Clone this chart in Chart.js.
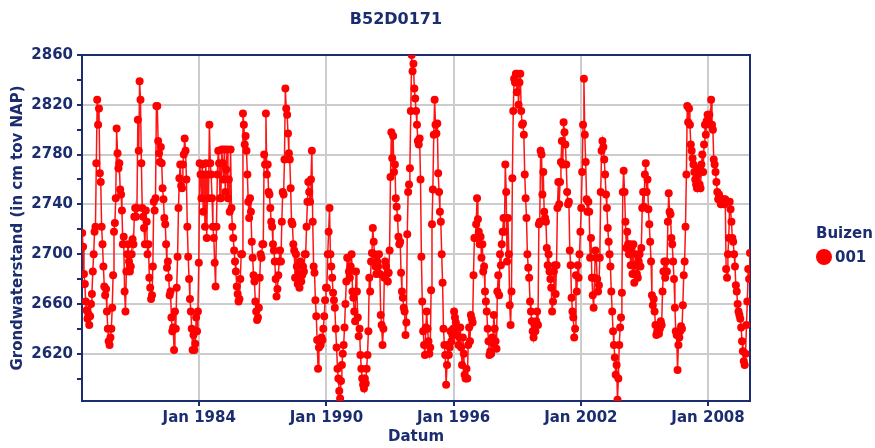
<!DOCTYPE html>
<html>
<head>
<meta charset="utf-8">
<title>B52D0171</title>
<script src="https://cdn.jsdelivr.net/npm/chart.js@4.4.1/dist/chart.umd.min.js"></script>
<style>
  html, body { margin: 0; padding: 0; background: #ffffff; }
  #wrap { width: 875px; height: 448px; }
</style>
</head>
<body>
<div id="wrap"><canvas id="levelChart" width="875" height="448"></canvas></div>
<script>
// Grondwaterstand in cm tov NAP, two readings per month (1978 starts end of June)
var lv1978 = [2717, 2706, 2684, 2676, 2662, 2655, 2648, 2652, 2643, 2650, 2660, 2668, 2686];
var lv1979 = [2700, 2718, 2722, 2773, 2824, 2804, 2817, 2765, 2758, 2722, 2708, 2690, 2674, 2667, 2672, 2654, 2640, 2630, 2627, 2633, 2640, 2657, 2683, 2718];
var lv1980 = [2725, 2745, 2801, 2781, 2769, 2773, 2752, 2748, 2735, 2708, 2714, 2670, 2654, 2686, 2700, 2708, 2694, 2686, 2690, 2700, 2712, 2708, 2730, 2737];
var lv1981 = [2730, 2737, 2808, 2783, 2839, 2824, 2773, 2737, 2730, 2721, 2708, 2735, 2726, 2700, 2708, 2681, 2673, 2664, 2667, 2690, 2742, 2735, 2745, 2819];
var lv1982 = [2819, 2791, 2781, 2774, 2786, 2773, 2753, 2744, 2729, 2724, 2708, 2689, 2694, 2681, 2667, 2670, 2649, 2638, 2641, 2623, 2654, 2640, 2673, 2698];
var lv1983 = [2737, 2761, 2772, 2755, 2753, 2772, 2780, 2793, 2783, 2760, 2722, 2698, 2680, 2664, 2654, 2640, 2623, 2635, 2623, 2628, 2649, 2638, 2654, 2693];
var lv1984 = [2773, 2764, 2745, 2772, 2734, 2764, 2722, 2773, 2713, 2764, 2745, 2804, 2773, 2764, 2745, 2722, 2713, 2693, 2674, 2722, 2764, 2783, 2773, 2745];
var lv1985 = [2745, 2784, 2773, 2760, 2784, 2750, 2768, 2784, 2745, 2760, 2734, 2784, 2737, 2722, 2713, 2703, 2694, 2686, 2674, 2668, 2662, 2664, 2680, 2700];
var lv1986 = [2700, 2813, 2804, 2788, 2795, 2783, 2764, 2742, 2729, 2745, 2734, 2710, 2697, 2683, 2678, 2662, 2654, 2647, 2649, 2657, 2681, 2700, 2697, 2708];
var lv1987 = [2708, 2780, 2772, 2813, 2764, 2772, 2750, 2748, 2737, 2726, 2722, 2708, 2703, 2694, 2680, 2666, 2672, 2683, 2694, 2703, 2694, 2726, 2750, 2748];
var lv1988 = [2776, 2833, 2817, 2812, 2797, 2781, 2776, 2753, 2726, 2724, 2708, 2703, 2681, 2700, 2690, 2676, 2684, 2673, 2694, 2678, 2683, 2690, 2686, 2700];
var lv1989 = [2700, 2722, 2742, 2758, 2750, 2742, 2760, 2783, 2726, 2690, 2685, 2663, 2650, 2631, 2608, 2625, 2631, 2627, 2633, 2631, 2640, 2650, 2663, 2673];
var lv1990 = [2673, 2700, 2718, 2737, 2700, 2690, 2681, 2669, 2663, 2657, 2640, 2625, 2608, 2600, 2590, 2584, 2598, 2611, 2620, 2627, 2641, 2660, 2678, 2697];
var lv1991 = [2697, 2686, 2681, 2690, 2700, 2670, 2665, 2654, 2646, 2686, 2670, 2649, 2634, 2640, 2619, 2608, 2600, 2595, 2592, 2600, 2596, 2608, 2619, 2638];
var lv1992 = [2681, 2670, 2694, 2701, 2721, 2710, 2700, 2690, 2684, 2694, 2690, 2700, 2684, 2651, 2643, 2627, 2640, 2681, 2694, 2690, 2684, 2678, 2685, 2703];
var lv1993 = [2762, 2798, 2777, 2795, 2766, 2772, 2745, 2738, 2729, 2714, 2708, 2710, 2685, 2670, 2665, 2657, 2654, 2635, 2645, 2716, 2750, 2756, 2769, 2815];
var lv1994 = [2860, 2847, 2853, 2833, 2825, 2815, 2804, 2791, 2788, 2793, 2760, 2698, 2662, 2638, 2627, 2619, 2641, 2654, 2640, 2630, 2620, 2625, 2671, 2724];
var lv1995 = [2752, 2796, 2824, 2804, 2797, 2805, 2765, 2750, 2734, 2726, 2700, 2677, 2640, 2627, 2619, 2595, 2611, 2627, 2619, 2625, 2638, 2630, 2635, 2640];
var lv1996 = [2654, 2649, 2645, 2635, 2641, 2627, 2633, 2641, 2625, 2611, 2633, 2620, 2603, 2600, 2608, 2600, 2627, 2641, 2630, 2651, 2648, 2645, 2683, 2713];
var lv1997 = [2713, 2724, 2745, 2728, 2718, 2708, 2714, 2697, 2708, 2686, 2690, 2670, 2662, 2654, 2640, 2630, 2619, 2622, 2620, 2633, 2628, 2651, 2640, 2630];
var lv1998 = [2624, 2670, 2683, 2667, 2700, 2691, 2708, 2718, 2729, 2718, 2772, 2750, 2694, 2729, 2700, 2659, 2643, 2670, 2761, 2815, 2841, 2838, 2845, 2830];
var lv1999 = [2845, 2820, 2838, 2845, 2815, 2804, 2805, 2796, 2764, 2745, 2729, 2700, 2689, 2681, 2662, 2654, 2646, 2638, 2633, 2643, 2638, 2646, 2654, 2643];
var lv2000 = [2724, 2726, 2783, 2780, 2748, 2766, 2734, 2729, 2726, 2705, 2691, 2700, 2686, 2680, 2673, 2654, 2662, 2686, 2691, 2668, 2691, 2737, 2758, 2740];
var lv2001 = [2758, 2774, 2791, 2772, 2806, 2798, 2788, 2772, 2750, 2740, 2742, 2703, 2691, 2665, 2654, 2649, 2633, 2640, 2683, 2670, 2691, 2681, 2700, 2718];
var lv2002 = [2737, 2766, 2804, 2841, 2796, 2774, 2744, 2734, 2742, 2734, 2697, 2713, 2681, 2667, 2657, 2681, 2703, 2697, 2680, 2670, 2675, 2697, 2750, 2783];
var lv2003 = [2791, 2786, 2776, 2764, 2748, 2737, 2721, 2710, 2700, 2690, 2670, 2654, 2638, 2627, 2617, 2603, 2611, 2583, 2600, 2627, 2641, 2649, 2669, 2750];
var lv2004 = [2767, 2750, 2726, 2705, 2718, 2708, 2700, 2708, 2691, 2705, 2684, 2708, 2677, 2691, 2700, 2684, 2681, 2694, 2700, 2690, 2705, 2737, 2750, 2738];
var lv2005 = [2764, 2773, 2750, 2760, 2736, 2724, 2710, 2694, 2667, 2659, 2664, 2654, 2643, 2635, 2638, 2643, 2636, 2640, 2646, 2643, 2670, 2686, 2694, 2681];
var lv2006 = [2694, 2686, 2726, 2749, 2734, 2732, 2713, 2708, 2694, 2680, 2657, 2638, 2635, 2607, 2627, 2633, 2638, 2642, 2640, 2659, 2683, 2694, 2722, 2764];
var lv2007 = [2819, 2806, 2817, 2804, 2788, 2783, 2777, 2772, 2766, 2760, 2756, 2753, 2764, 2769, 2756, 2753, 2772, 2780, 2766, 2788, 2804, 2796, 2807, 2812];
var lv2008 = [2807, 2812, 2804, 2824, 2804, 2800, 2776, 2772, 2766, 2758, 2750, 2744, 2748, 2744, 2740, 2744, 2742, 2744, 2740, 2744, 2688, 2681, 2700, 2713];
var lv2009 = [2742, 2736, 2726, 2713, 2710, 2700, 2690, 2675, 2670, 2660, 2654, 2651, 2648, 2641, 2630, 2622, 2614, 2611, 2620, 2643, 2662, 2688, 2680, 2701];

var yearSeries = [
  [1978, lv1978], [1979, lv1979], [1980, lv1980], [1981, lv1981], [1982, lv1982], [1983, lv1983],
  [1984, lv1984], [1985, lv1985], [1986, lv1986], [1987, lv1987], [1988, lv1988], [1989, lv1989],
  [1990, lv1990], [1991, lv1991], [1992, lv1992], [1993, lv1993], [1994, lv1994], [1995, lv1995],
  [1996, lv1996], [1997, lv1997], [1998, lv1998], [1999, lv1999], [2000, lv2000], [2001, lv2001],
  [2002, lv2002], [2003, lv2003], [2004, lv2004], [2005, lv2005], [2006, lv2006], [2007, lv2007],
  [2008, lv2008], [2009, lv2009]
];

var xTickYears = [1984, 1990, 1996, 2002, 2008];
var yTickMarks = [2600, 2620, 2640, 2660, 2680, 2700, 2720, 2740, 2760, 2780, 2800, 2820, 2840, 2860];
var yTickLabels = [2620, 2660, 2700, 2740, 2780, 2820, 2860];

var stationName = 'B52D0171';
var filterName = '001';
var navy = '#1b2d6e';
var gridGrey = '#cccccc';
var labelFont = { family: '"DejaVu Sans", Verdana, sans-serif', size: 15, weight: 'bold' };

// build {x, y} points, x in decimal years (readings at mid and end of month)
function buildPoints() {
  var points = [];
  yearSeries.forEach(function (entry, k) {
    var year = entry[0], values = entry[1];
    var offset = (k === 0) ? 24 - values.length : 0;
    values.forEach(function (v, i) {
      points.push({ x: year + (offset + i + 0.5) / 24, y: v });
    });
  });
  return points;
}

// box round the plot area, drawn under the markers
var framePlugin = {
  id: 'plotFrame',
  beforeDatasetsDraw: function (chart) {
    var ctx = chart.ctx, a = chart.chartArea;
    ctx.save();
    ctx.strokeStyle = navy;
    ctx.lineWidth = 2;
    ctx.strokeRect(a.left, a.top, a.right - a.left, a.bottom - a.top);
    ctx.restore();
  }
};

// title above and the "Buizen" legend at the right
var textPlugin = {
  id: 'titleLegend',
  afterDraw: function (chart) {
    var ctx = chart.ctx, a = chart.chartArea;
    var ds = chart.data.datasets[0];
    ctx.save();
    ctx.fillStyle = navy;
    ctx.textBaseline = 'middle';
    ctx.textAlign = 'center';
    ctx.font = 'bold 16px "DejaVu Sans", Verdana, sans-serif';
    ctx.fillText(stationName, 396, 20);

    ctx.textAlign = 'left';
    ctx.font = 'bold 15px "DejaVu Sans", Verdana, sans-serif';
    ctx.fillText('Buizen', a.right + 66, 234);

    ctx.beginPath();
    ctx.arc(a.right + 74, 257, 8, 0, Math.PI * 2);
    ctx.fillStyle = ds.pointBackgroundColor;
    ctx.fill();
    ctx.fillStyle = navy;
    ctx.fillText(ds.label, a.right + 85, 258);
    ctx.restore();
  }
};

document.addEventListener('DOMContentLoaded', function () {
  var ctx = document.getElementById('levelChart').getContext('2d');
  var levelChart = new Chart(ctx, {
    type: 'line',
    data: {
      datasets: [{
        label: filterName,
        data: buildPoints(),
        borderColor: '#ff1414',
        borderWidth: 1.5,
        pointStyle: 'circle',
        pointRadius: 4,
        pointHoverRadius: 4,
        pointBorderWidth: 0,
        pointBackgroundColor: '#ff0000',
        tension: 0
      }]
    },
    options: {
      responsive: false,
      animation: false,
      devicePixelRatio: 1,
      layout: { padding: { top: 55, right: 125, left: 0, bottom: 0 } },
      plugins: {
        legend: { display: false },
        title: { display: false },
        tooltip: { enabled: false }
      },
      scales: {
        x: {
          type: 'linear',
          min: 1978.47,
          max: 2009.98,
          afterBuildTicks: function (scale) {
            scale.ticks = xTickYears.map(function (v) { return { value: v }; });
          },
          afterFit: function (scale) { scale.height = 47; },
          ticks: {
            autoSkip: false,
            maxRotation: 0,
            color: navy,
            font: labelFont,
            padding: 3,
            callback: function (value) { return 'Jan ' + value; }
          },
          grid: { color: gridGrey, lineWidth: 2, tickColor: navy, tickWidth: 2, tickLength: 5 },
          border: { color: navy, width: 2 },
          title: { display: true, text: 'Datum', color: navy, font: labelFont, padding: { top: 0, bottom: 2 } }
        },
        y: {
          type: 'linear',
          min: 2582,
          max: 2860,
          afterBuildTicks: function (scale) {
            scale.ticks = yTickMarks.map(function (v) { return { value: v }; });
          },
          afterFit: function (scale) { scale.width = 82; },
          ticks: {
            autoSkip: false,
            color: navy,
            font: labelFont,
            padding: 4,
            callback: function (value) { return yTickLabels.indexOf(value) >= 0 ? String(value) : ''; }
          },
          grid: {
            color: function (c) {
              return (c.tick && yTickLabels.indexOf(c.tick.value) >= 0) ? gridGrey : 'rgba(0,0,0,0)';
            },
            lineWidth: 2,
            tickColor: navy,
            tickWidth: 2,
            tickLength: 5
          },
          border: { color: navy, width: 2 },
          title: {
            display: true,
            text: 'Grondwaterstand (in cm tov NAP)',
            color: navy,
            font: labelFont,
            padding: { top: 9, bottom: 0 }
          }
        }
      }
    },
    plugins: [framePlugin, textPlugin]
  });
});
</script>
</body>
</html>
